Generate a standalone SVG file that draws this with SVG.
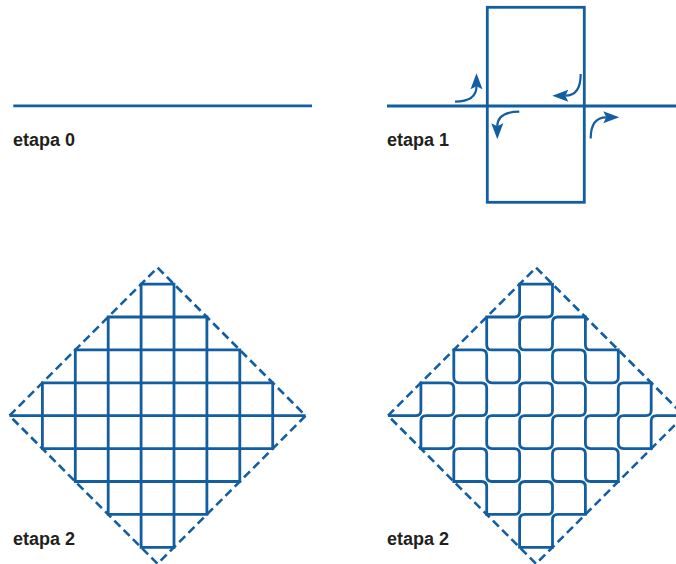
<svg xmlns="http://www.w3.org/2000/svg" width="676" height="564" viewBox="0 0 676 564">
<style>
.ln{fill:none;stroke:#135ea0;stroke-width:2.8}
.cv{fill:none;stroke:#135ea0;stroke-width:2.8;vector-effect:non-scaling-stroke;stroke-linejoin:miter}
.dash{fill:none;stroke:#135ea0;stroke-width:2.6;stroke-dasharray:8.5 4.59}
.arr{fill:none;stroke:#135ea0;stroke-width:2.2;marker-end:url(#head)}
.lbl{font-family:"Liberation Sans",Arial,sans-serif;font-weight:bold;font-size:18px;fill:#231f20}
</style>
<defs>
<marker id="head" markerUnits="userSpaceOnUse" markerWidth="16" markerHeight="12" refX="3" refY="6" orient="auto" overflow="visible">
<path d="M0,0 L16,6 L0,12 L3,6 Z" fill="#135ea0"/>
</marker>
</defs>

<g id="etapa0">
<line class="ln" x1="13.3" y1="105.8" x2="312" y2="105.8"/>
<text class="lbl" x="13" y="146">etapa 0</text>
</g>

<g id="etapa1">
<line class="ln" x1="387" y1="106" x2="676" y2="106"/>
<rect class="ln" x="487.3" y="7.3" width="97" height="195"/>
<text class="lbl" x="387" y="146">etapa 1</text>
</g>
<g id="arrows">
<path class="arr" d="M455,101.6 Q476.5,101.6 476.5,86.3"/>
<path class="arr" d="M580.7,74 Q580.7,95.7 565.3,95.7"/>
<path class="arr" d="M519.3,111.7 Q497.3,111.7 497.3,126.3"/>
<path class="arr" d="M590.7,138.5 Q590.7,117.3 606.3,117.3"/>
</g>

<g id="etapa2-grid">
<path class="dash" d="M9.5,415.7 L157.55,267.65 L305.6,415.7 L157.55,563.75 Z"/>
<g transform="translate(9.5 415.7) scale(32.9 -32.9)">
<path class="cv" d="M0,0 L1,0 L1,1 L2,1 L2,0 L1,0 L1,-1 L2,-1 L2,0 L3,0 L3,1 L2,1 L2,2 L3,2 L3,1 L4,1 L4,2 L3,2 L3,3 L4,3 L4,4 L5,4 L5,3 L4,3 L4,2 L5,2 L5,3 L6,3 L6,2 L7,2 L7,1 L6,1 L6,2 L5,2 L5,1 L6,1 L6,0 L5,0 L5,-1 L4,-1 L4,0 L5,0 L5,1 L4,1 L4,0 L3,0 L3,-1 L4,-1 L4,-2 L3,-2 L3,-1 L2,-1 L2,-2 L3,-2 L3,-3 L4,-3 L4,-2 L5,-2 L5,-3 L4,-3 L4,-4 L5,-4 L5,-3 L6,-3 L6,-2 L5,-2 L5,-1 L6,-1 L6,-2 L7,-2 L7,-1 L6,-1 L6,0 L7,0 L7,1 L8,1 L8,0 L7,0 L7,-1 L8,-1 L8,0 L9,0"/>
</g>
<text class="lbl" x="13" y="545">etapa 2</text>
</g>

<g id="etapa2-curve">
<path class="dash" d="M388,415.7 L536.05,267.65 L684.1,415.7 L536.05,563.75 Z"/>
<g transform="translate(388 415.7) scale(32.9 -32.9)">
<path class="cv" d="M0,0 L0.84,0 Q1,0 1,0.16 L1,1 L1.84,1 Q2,1 2,0.84 L2,0.16 Q2,0 1.84,0 L1.16,0 Q1,0 1,-0.16 L1,-1 L1.84,-1 Q2,-1 2,-0.84 L2,-0.16 Q2,0 2.16,0 L2.84,0 Q3,0 3,0.16 L3,0.84 Q3,1 2.84,1 L2.16,1 Q2,1 2,1.16 L2,2 L2.84,2 Q3,2 3,1.84 L3,1.16 Q3,1 3.16,1 L3.84,1 Q4,1 4,1.16 L4,1.84 Q4,2 3.84,2 L3.16,2 Q3,2 3,2.16 L3,3 L3.84,3 Q4,3 4,3.16 L4,4 L5,4 L5,3.16 Q5,3 4.84,3 L4.16,3 Q4,3 4,2.84 L4,2.16 Q4,2 4.16,2 L4.84,2 Q5,2 5,2.16 L5,2.84 Q5,3 5.16,3 L6,3 L6,2.16 Q6,2 6.16,2 L7,2 L7,1.16 Q7,1 6.84,1 L6.16,1 Q6,1 6,1.16 L6,1.84 Q6,2 5.84,2 L5.16,2 Q5,2 5,1.84 L5,1.16 Q5,1 5.16,1 L5.84,1 Q6,1 6,0.84 L6,0.16 Q6,0 5.84,0 L5.16,0 Q5,0 5,-0.16 L5,-0.84 Q5,-1 4.84,-1 L4.16,-1 Q4,-1 4,-0.84 L4,-0.16 Q4,0 4.16,0 L4.84,0 Q5,0 5,0.16 L5,0.84 Q5,1 4.84,1 L4.16,1 Q4,1 4,0.84 L4,0.16 Q4,0 3.84,0 L3.16,0 Q3,0 3,-0.16 L3,-0.84 Q3,-1 3.16,-1 L3.84,-1 Q4,-1 4,-1.16 L4,-1.84 Q4,-2 3.84,-2 L3.16,-2 Q3,-2 3,-1.84 L3,-1.16 Q3,-1 2.84,-1 L2.16,-1 Q2,-1 2,-1.16 L2,-2 L2.84,-2 Q3,-2 3,-2.16 L3,-3 L3.84,-3 Q4,-3 4,-2.84 L4,-2.16 Q4,-2 4.16,-2 L4.84,-2 Q5,-2 5,-2.16 L5,-2.84 Q5,-3 4.84,-3 L4.16,-3 Q4,-3 4,-3.16 L4,-4 L5,-4 L5,-3.16 Q5,-3 5.16,-3 L6,-3 L6,-2.16 Q6,-2 5.84,-2 L5.16,-2 Q5,-2 5,-1.84 L5,-1.16 Q5,-1 5.16,-1 L5.84,-1 Q6,-1 6,-1.16 L6,-1.84 Q6,-2 6.16,-2 L7,-2 L7,-1.16 Q7,-1 6.84,-1 L6.16,-1 Q6,-1 6,-0.84 L6,-0.16 Q6,0 6.16,0 L6.84,0 Q7,0 7,0.16 L7,0.84 Q7,1 7.16,1 L8,1 L8,0.16 Q8,0 7.84,0 L7.16,0 Q7,0 7,-0.16 L7,-0.84 Q7,-1 7.16,-1 L8,-1 L8,-0.16 Q8,0 8.16,0 L9,0"/>
</g>
<text class="lbl" x="387" y="545">etapa 2</text>
</g>
</svg>
